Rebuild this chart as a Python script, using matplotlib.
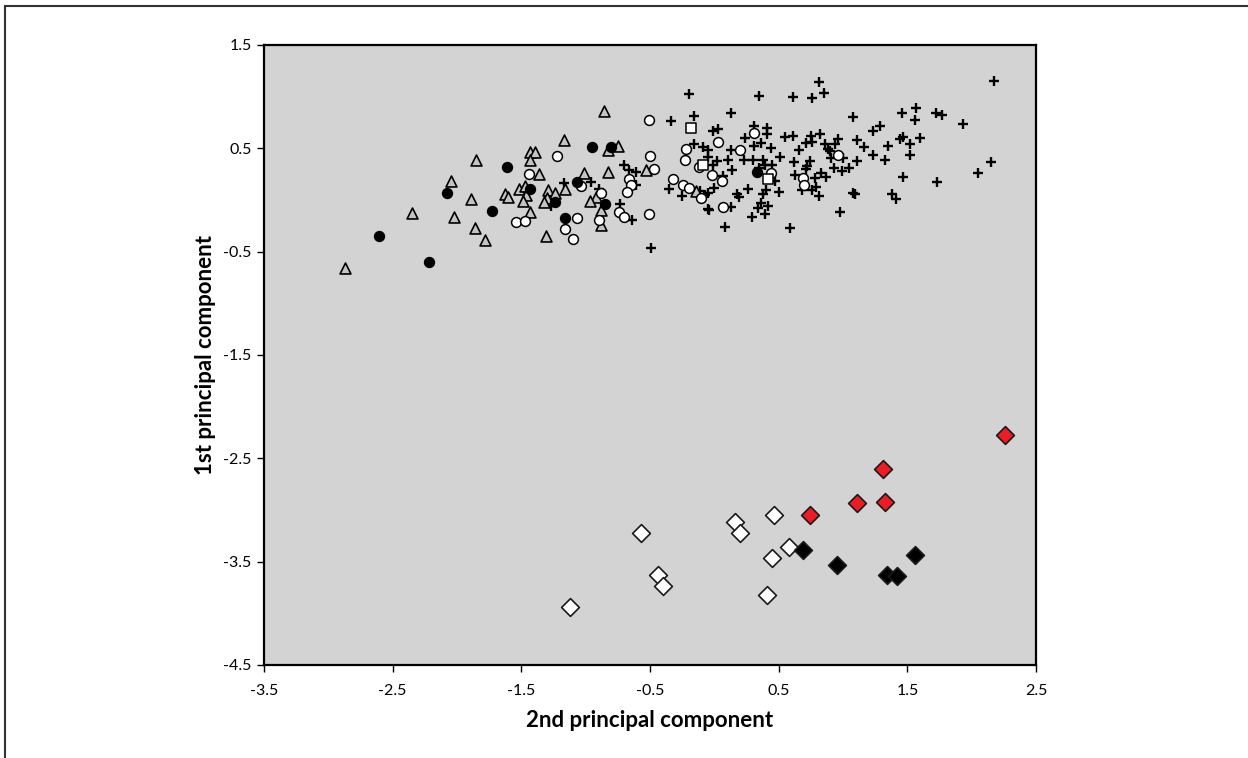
"""PCA score plot: 1st vs 2nd principal component."""

import numpy as np
import matplotlib.pyplot as plt
from matplotlib.lines import Line2D

plt.rcParams["font.family"] = ["Lato", "DejaVu Sans"]

# grey triangles
tri_x = [-1.85, -2.05, -1.89, -2.35, -2.02, -1.86, -2.87, -0.86, -1.17, -0.83,
         -0.75, -1.43, -1.39, -1.43, -1.36, -1.01, -0.83, -0.53, -1.52, -1.63,
         -1.60, -1.47, -1.46, -1.49, -1.29, -1.24, -1.30, -1.32, -1.16, -0.92,
         -0.97, -0.88, -1.43, -1.78, -1.31, -0.88, -0.14]
tri_y = [0.39, 0.18, 0.01, -0.13, -0.16, -0.27, -0.66, 0.86, 0.58, 0.48,
         0.52, 0.46, 0.46, 0.39, 0.25, 0.26, 0.27, 0.29, 0.11, 0.06,
         0.03, 0.14, 0.05, -0.01, 0.10, 0.07, 0.02, -0.02, 0.11, 0.03,
         -0.01, -0.10, -0.12, -0.39, -0.35, -0.24, 0.09]

# black filled circles
dot_x = [-2.08, -2.61, -2.22, -0.95, -0.80, -1.61, -1.43, -1.24, -1.07, -0.85,
         -1.73, -1.16, 0.33]
dot_y = [0.07, -0.35, -0.60, 0.51, 0.51, 0.32, 0.11, -0.02, 0.17, -0.04,
         -0.11, -0.17, 0.27]

# open circles
ring_x = [-1.22, -1.44, -0.51, -0.50, -0.47, -0.66, -0.65, -0.68, -1.04, -0.88,
          -0.74, -0.70, -0.51, -1.54, -1.47, -1.07, -1.16, -1.10, -0.90, 0.31,
          0.03, -0.22, 0.20, -0.23, -0.12, -0.02, -0.32, 0.44, 0.06, 0.69,
          0.70, -0.24, -0.20, -0.10, 0.07, 0.96]
ring_y = [0.43, 0.25, 0.77, 0.43, 0.30, 0.20, 0.15, 0.08, 0.14, 0.07,
          -0.12, -0.16, -0.14, -0.21, -0.20, -0.17, -0.28, -0.38, -0.19, 0.65,
          0.56, 0.49, 0.48, 0.39, 0.32, 0.24, 0.20, 0.26, 0.18, 0.21,
          0.15, 0.15, 0.12, 0.02, -0.07, 0.44]

# open squares
sq_x = [-0.18, -0.09, 0.42]
sq_y = [0.70, 0.34, 0.20]

# plus signs
plus_x = [-0.70, -0.66, -0.61, -0.61, -1.27, -1.17, -0.96, -0.90, -0.73, -0.64,
          -0.49, -0.20, 0.35, 0.61, 0.76, 0.81, 0.85, -0.34, -0.16, 0.13,
          -0.01, 0.03, 0.31, 0.41, 0.41, 0.55, 0.61, 0.75, 0.71, 0.76,
          0.24, 0.36, 0.31, 0.44, 0.66, -0.16, -0.09, -0.05, 0.13, 0.51,
          -0.05, 0.02, 0.11, 0.23, 0.30, 0.38, 0.62, 0.74, -0.01, 0.39,
          0.45, 0.14, 0.35, 0.47, 0.07, 0.63, 0.71, 0.72, 0.78, 0.79,
          0.76, 0.81, 0.68, -0.11, -0.05, 0.00, -0.07, -0.35, -0.25, 0.18,
          0.19, 0.26, 0.40, 0.38, 0.50, 0.36, 0.42, 0.34, 0.39, 0.29,
          0.13, -0.04, -0.05, 0.08, 0.59, 2.17, 1.08, 1.46, 1.57, 1.56,
          1.72, 1.77, 1.93, 1.23, 1.29, 0.82, 0.86, 0.96, 0.94, 0.88,
          0.90, 0.91, 1.00, 1.11, 1.16, 1.23, 1.35, 1.33, 1.11, 1.44,
          1.47, 1.52, 1.52, 1.60, 0.93, 0.99, 1.05, 0.83, 0.87, 1.08,
          1.09, 1.38, 1.41, 1.47, 1.73, 0.98, 2.05, 2.15]
plus_y = [0.34, 0.29, 0.27, 0.15, -0.06, 0.16, 0.17, 0.11, -0.04, -0.19,
          -0.46, 1.03, 1.01, 1.00, 0.99, 1.14, 1.04, 0.76, 0.81, 0.84,
          0.67, 0.69, 0.72, 0.70, 0.64, 0.61, 0.62, 0.62, 0.55, 0.56,
          0.60, 0.55, 0.52, 0.50, 0.48, 0.54, 0.51, 0.48, 0.48, 0.42,
          0.42, 0.38, 0.39, 0.39, 0.39, 0.39, 0.37, 0.38, 0.34, 0.34,
          0.34, 0.29, 0.31, 0.18, 0.23, 0.24, 0.30, 0.33, 0.21, 0.13,
          0.10, 0.04, 0.10, 0.09, 0.07, 0.12, 0.05, 0.11, 0.04, 0.06,
          0.03, 0.11, 0.10, 0.06, 0.08, -0.03, -0.06, -0.08, -0.14, -0.16,
          -0.07, -0.10, -0.09, -0.26, -0.27, 1.15, 0.80, 0.84, 0.89, 0.77,
          0.84, 0.82, 0.74, 0.67, 0.72, 0.64, 0.54, 0.59, 0.54, 0.49,
          0.47, 0.41, 0.41, 0.58, 0.51, 0.44, 0.52, 0.39, 0.38, 0.59,
          0.61, 0.54, 0.44, 0.60, 0.31, 0.28, 0.31, 0.26, 0.22, 0.07,
          0.06, 0.06, 0.01, 0.22, 0.17, -0.12, 0.26, 0.37]

# diamonds
red_x = [2.26, 1.31, 1.11, 1.33, 0.74]
red_y = [-2.27, -2.60, -2.93, -2.92, -3.05]
wdia_x = [0.46, 0.16, 0.20, -0.57, 0.58, 0.45, -0.44, -0.40, 0.41, -1.12]
wdia_y = [-3.05, -3.12, -3.22, -3.22, -3.36, -3.46, -3.63, -3.74, -3.82, -3.94]
bdia_x = [0.69, 0.95, 1.56, 1.34, 1.42]
bdia_y = [-3.39, -3.53, -3.44, -3.63, -3.64]

x_ticks = [-3.5, -2.5, -1.5, -0.5, 0.5, 1.5, 2.5]
y_ticks = [-4.5, -3.5, -2.5, -1.5, -0.5, 0.5, 1.5]

fig = plt.figure(figsize=(12.48, 7.58), dpi=100)
ax = fig.add_axes([264 / 1248, 1 - 665 / 758, 772 / 1248, 620 / 758])
ax.set_facecolor("#d3d3d3")

ax.scatter(plus_x, plus_y, marker="+", s=60, c="black", linewidths=1.7, zorder=3)
ax.scatter(tri_x, tri_y, marker="^", s=62, facecolor="#c4c4c4", edgecolor="black",
           linewidths=1.2, zorder=3)
ax.scatter(ring_x, ring_y, marker="o", s=50, facecolor="white", edgecolor="black",
           linewidths=1.1, zorder=3)
ax.scatter(dot_x, dot_y, marker="o", s=50, facecolor="black", edgecolor="black",
           linewidths=1.1, zorder=3)
ax.scatter(sq_x, sq_y, marker="s", s=52, facecolor="white", edgecolor="black",
           linewidths=1.1, zorder=3)
for xs, ys, fc in [(wdia_x, wdia_y, "white"), (bdia_x, bdia_y, "black"),
                   (red_x, red_y, "#ed1c24")]:
    ax.scatter(xs, ys, marker="D", s=82, facecolor=fc, edgecolor="#1a1a1a",
               linewidths=1.2, zorder=3)

ax.set_xlim(-3.5, 2.5)
ax.set_ylim(-4.5, 1.5)
ax.set_xticks(x_ticks)
ax.set_yticks(y_ticks)
ax.set_xticklabels([f"{t:g}" for t in x_ticks], fontsize=11.5)
ax.set_yticklabels([f"{t:g}" for t in y_ticks], fontsize=11.5)
ax.tick_params(direction="out", length=5, width=1, colors="black")
ax.tick_params(axis="x", pad=9)
ax.tick_params(axis="y", pad=4)
for s in ax.spines.values():
    s.set_linewidth(1.6)

ax.set_xlabel("2nd principal component", fontsize=16, fontweight="bold", labelpad=8)
ax.set_ylabel("1st principal component", fontsize=16, fontweight="bold", labelpad=5)

# outer frame (only left and top edges fall inside the image)
fig.add_artist(Line2D([4.5 / 1248, 4.5 / 1248], [0, 1 - 6 / 758], color="#333333", lw=1.5))
fig.add_artist(Line2D([4.5 / 1248, 1], [1 - 6 / 758, 1 - 6 / 758], color="#333333", lw=1.5))

fig.savefig("out.png", dpi=100)
plt.close(fig)
